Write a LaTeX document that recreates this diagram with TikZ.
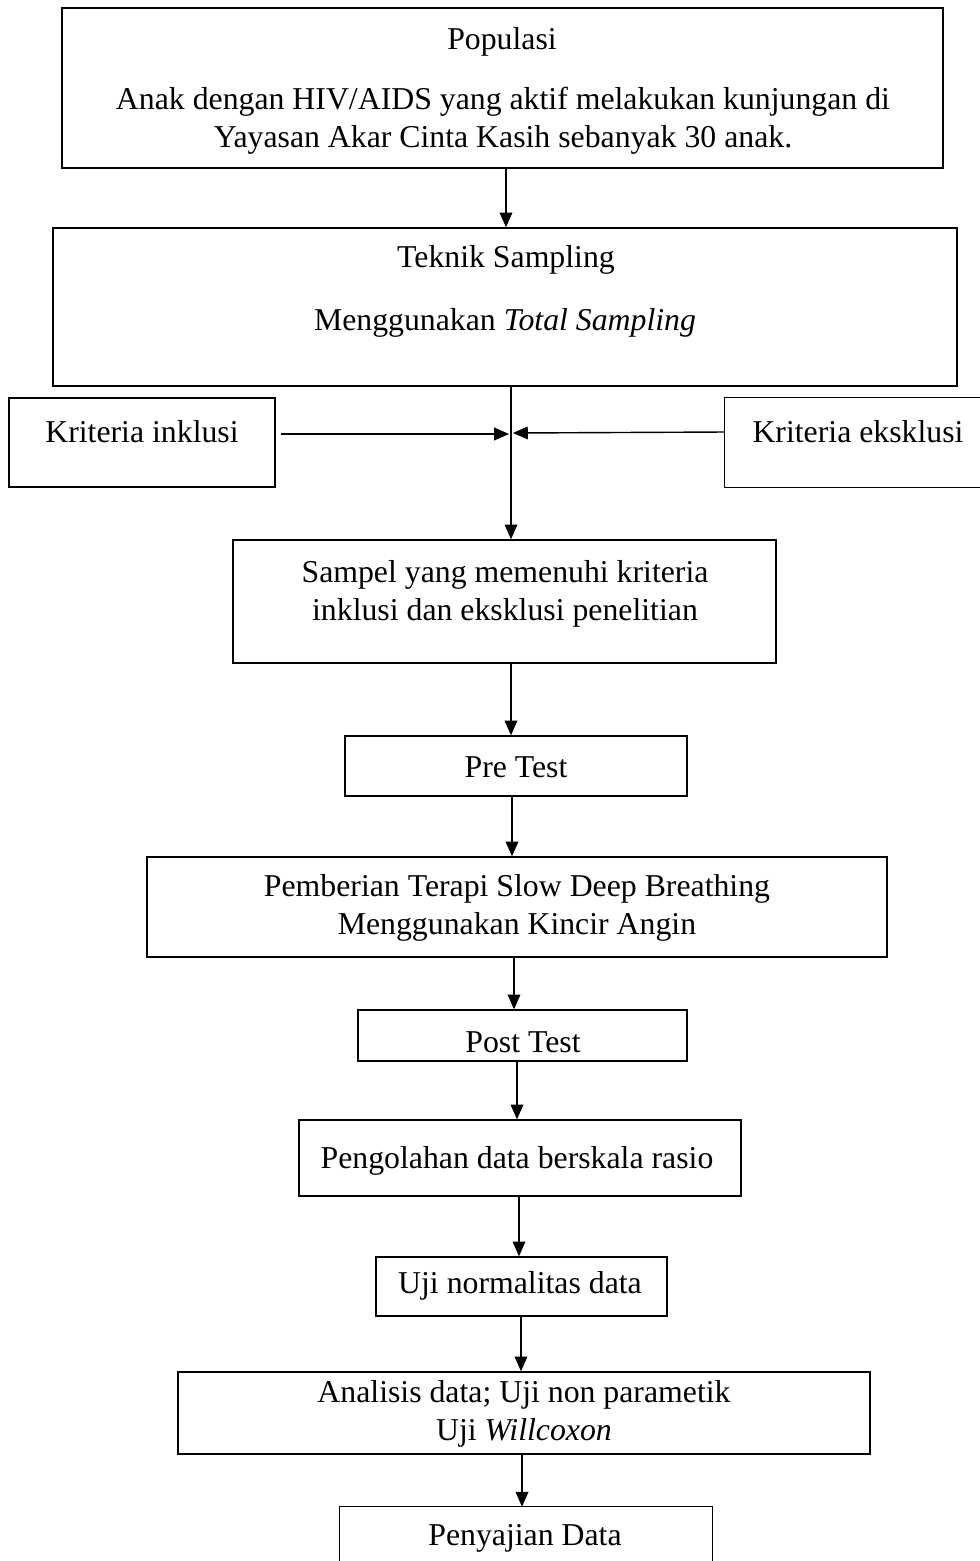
\documentclass[tikz,border=0pt]{standalone}
\usepackage{fontspec}
\setmainfont{Liberation Serif}
\usetikzlibrary{arrows.meta}
\tikzset{
  x=0.025cm, y=-0.025cm,
  boxline/.style={line width=1pt, black},
  arr/.style={line width=1pt, -{Triangle[length=10.5pt,width=9pt]}},
  lbl/.style={inner sep=0pt, align=center, font=\fontsize{22.6}{27}\selectfont},
}
\newcommand{\pbox}[5]{\node[draw, boxline, inner sep=0pt, minimum width={(#4-#2)*0.025cm}, minimum height={(#5-#3)*0.025cm}] (#1) at ({(#2+#4)/2},{(#3+#5)/2}) {};}
\begin{document}
\begin{tikzpicture}
\useasboundingbox (0,0) rectangle (980,1561);
% boxes
\pbox{pop}{62}{8}{943}{168}
\pbox{tek}{53}{228}{957}{386}
\pbox{ink}{9}{398}{275}{487}
\node[inner sep=0pt, minimum width={(982-725)*0.025cm}, minimum height={(487-398)*0.025cm}] (eks) at ({(725+982)/2},{(398+487)/2}) {};
\draw[boxline] (eks.north east) -- (eks.north west) -- (eks.south west) -- (eks.south east);
\pbox{sam}{233}{540}{776}{663}
\pbox{pre}{345}{736}{687}{796}
\pbox{pem}{147}{857}{887}{957}
\pbox{post}{358}{1010}{687}{1061}
\pbox{peng}{299}{1120}{741}{1196}
\pbox{uji}{376}{1257}{667}{1316}
\pbox{ana}{178}{1372}{870}{1454}
\node[inner sep=0pt, minimum width={(712-340)*0.025cm}, minimum height={(1563-1507)*0.025cm}] (pen) at ({(340+712)/2},{(1507+1563)/2}) {};
\draw[boxline] (pen.south west) -- (pen.north west) -- (pen.north east) -- (pen.south east);
% texts
\node[lbl] (tpop1) at (502,42) {Populasi};
\node[lbl] (tpop2) at (503,121) {Anak dengan HIV/AIDS yang aktif melakukan kunjungan di\\Yayasan Akar Cinta Kasih sebanyak 30 anak.};
\node[lbl] (ttek1) at (506,260) {Teknik Sampling};
\node[lbl] (ttek2) at (505,323) {Menggunakan \textit{Total Sampling}};
\node[lbl] (tink) at (142,432) {Kriteria inklusi};
\node[lbl] (teks) at (858,432) {Kriteria eksklusi};
\node[lbl] (tsam) at (505,594) {Sampel yang memenuhi kriteria\\inklusi dan eksklusi penelitian};
\node[lbl] (tpre) at (516,767) {Pre Test};
\node[lbl] (tpem) at (517,908) {Pemberian Terapi Slow Deep Breathing\\Menggunakan Kincir Angin};
\node[lbl] (tpost) at (523,1042) {Post Test};
\node[lbl] (tpeng) at (517,1161) {Pengolahan data berskala rasio};
\node[lbl] (tuji) at (520,1286) {Uji normalitas data};
\node[lbl] (tana) at (524,1414) {Analisis data; Uji non parametik\\Uji \textit{Willcoxon}};
\node[lbl] (tpen) at (525,1538) {Penyajian Data};
% connectors
\draw[arr] (506,0 |- pop.south) -- (506,0 |- tek.north);
\draw[arr] (511,0 |- tek.south) -- (511,0 |- sam.north);
\coordinate (jl) at (509,434);
\coordinate (jr) at (513,433);
\draw[arr] (281,434) -- (jl);
\draw[arr] (eks.west |- 0,432) -- (jr);
\draw[arr] (511,0 |- sam.south) -- (511,0 |- pre.north);
\draw[arr] (512,0 |- pre.south) -- (512,0 |- pem.north);
\draw[arr] (514,0 |- pem.south) -- (514,0 |- post.north);
\draw[arr] (517,0 |- post.south) -- (517,0 |- peng.north);
\draw[arr] (519,0 |- peng.south) -- (519,0 |- uji.north);
\draw[arr] (521,0 |- uji.south) -- (521,0 |- ana.north);
\draw[arr] (522,0 |- ana.south) -- (522,0 |- pen.north);
\end{tikzpicture}
\end{document}
